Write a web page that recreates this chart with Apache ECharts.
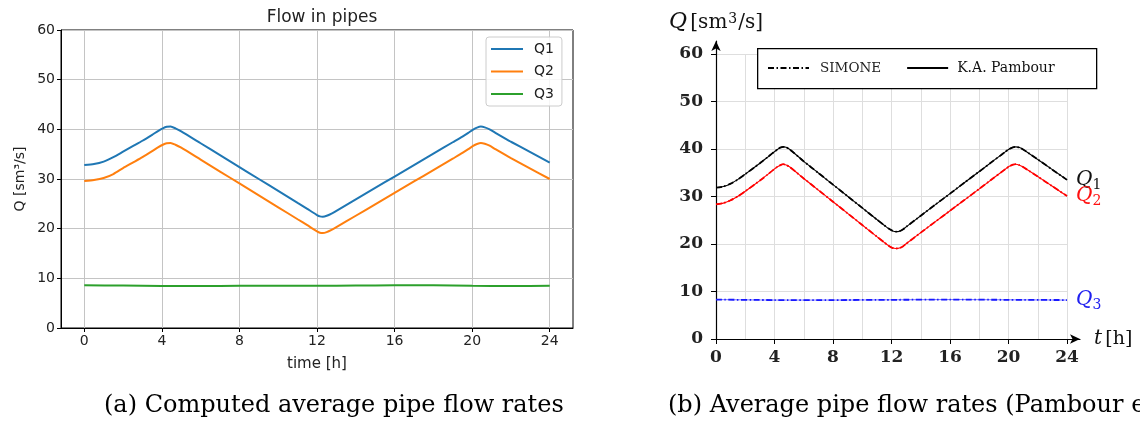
<!DOCTYPE html>
<html><head><meta charset="utf-8">
<script src="https://cdn.jsdelivr.net/npm/echarts@6/dist/echarts.min.js"></script>
<style>html,body{margin:0;padding:0;background:#fff}#c{width:1140px;height:426px}</style>
</head><body><div id="c"></div>
<script>
// ---------- Left chart (computed) ----------
const hoursLeft = [0,0.5,1,1.5,2,2.5,3,3.5,3.8,4.05,4.25,4.45,4.7,5,6,7,8,9,10,11,11.5,11.75,12,12.15,12.3,12.5,12.75,13,14,15,16,17,18,19,19.5,19.8,20.05,20.25,20.45,20.65,20.9,21.2,22,23,24];
const q1Left = [32.8,33.0,33.5,34.4,35.5,36.6,37.7,38.9,39.65,40.2,40.5,40.55,40.2,39.6,37.2,34.8,32.4,30.0,27.6,25.2,24.0,23.35,22.75,22.48,22.42,22.6,23.05,23.6,25.9,28.2,30.5,32.8,35.1,37.4,38.55,39.3,39.95,40.35,40.55,40.4,40.0,39.3,37.5,35.4,33.3];
const q2Left = [29.6,29.8,30.2,31.0,32.2,33.3,34.4,35.6,36.35,36.9,37.2,37.25,36.9,36.3,33.9,31.5,29.1,26.7,24.3,21.9,20.7,20.05,19.45,19.18,19.12,19.3,19.75,20.3,22.6,24.9,27.2,29.5,31.8,34.1,35.25,36.0,36.65,37.05,37.25,37.1,36.7,36.0,34.2,32.1,30.0];
const hoursQ3Left = [0,2,4,6,8,10,12,14,16,18,20,22,24];
const q3Left = [8.6,8.55,8.45,8.45,8.5,8.5,8.5,8.55,8.6,8.6,8.5,8.45,8.5];
const xTicksLeft = [0,4,8,12,16,20,24];

// ---------- Right chart (Pambour et al.) ----------
const hoursRight = [0,0.5,1,1.5,2,3,3.5,3.9,4.2,4.4,4.6,4.8,5.05,6,7,8,9,10,11,11.5,11.8,12.05,12.3,12.55,12.8,13,14,15,16,17,18,19,19.5,19.8,20.05,20.3,20.5,20.75,21,22,23,24];
const q1Right = [31.85,32.1,32.7,33.6,34.7,37.0,38.2,39.2,39.9,40.3,40.45,40.35,39.9,37.4,34.95,32.5,30.05,27.6,25.15,23.95,23.25,22.8,22.6,22.7,23.1,23.6,25.95,28.3,30.6,32.95,35.25,37.6,38.75,39.45,40.0,40.35,40.45,40.3,39.9,37.8,35.65,33.5];
const q2Right = [28.35,28.6,29.2,30.05,31.1,33.35,34.55,35.55,36.25,36.6,36.8,36.65,36.2,33.8,31.35,28.9,26.45,24.0,21.55,20.35,19.65,19.2,19.05,19.15,19.55,20.05,22.4,24.7,27.0,29.3,31.6,33.95,35.1,35.8,36.35,36.7,36.8,36.6,36.2,34.2,32.15,30.1];
const hoursQ3Right = [0,4,8,12,16,20,24];
const q3Right = [8.3,8.2,8.2,8.25,8.3,8.25,8.2];

const captionA = '(a) Computed average pipe flow rates';
const captionB = '(b) Average pipe flow rates (Pambour et';

const pairs = (xs, ys) => xs.map((x, i) => [x, ys[i]]);

const SANS = 'DejaVu Sans';
const SERIF = 'DejaVu Serif';
const mplGrid = '#c4c4c4';
const pgfGrid = '#dedede';

const qLabelRich = {
  q: { fontFamily: SERIF, fontStyle: 'italic', fontSize: 20, lineHeight: 24, verticalAlign: 'middle' },
  s: { fontFamily: SERIF, fontSize: 14, lineHeight: 24, verticalAlign: 'bottom' }
};
function qRich(color) {
  const r = {};
  for (const k in qLabelRich) r[k] = Object.assign({ color }, qLabelRich[k]);
  return r;
}

const chart = echarts.init(document.getElementById('c'), null, { renderer: 'canvas' });

const simoneDash = [6, 2.5, 1.5, 2.5];

chart.setOption({
  animation: false,
  backgroundColor: '#fff',
  title: [{
    text: 'Flow in pipes', left: 317, top: 4, textAlign: 'center',
    textStyle: { fontFamily: SANS, fontSize: 17, fontWeight: 'normal', color: '#222' }
  }],
  grid: [
    { left: 61, top: 30, width: 512, height: 298, show: true, borderColor: '#000', borderWidth: 1, containLabel: false },
    { left: 716, top: 54, width: 351, height: 285, containLabel: false },
    { left: 716, top: 41, width: 364, height: 298, containLabel: false }
  ],
  legend: [
    {
      data: ['Q1', 'Q2', 'Q3'], orient: 'vertical', left: 486, top: 37,
      padding: [5, 8, 5, 4], itemWidth: 32, itemHeight: 12, itemGap: 8.5,
      backgroundColor: 'rgba(255,255,255,0.85)', borderColor: '#cccccc', borderWidth: 1, borderRadius: 3,
      itemStyle: { opacity: 0 },
      textStyle: { fontFamily: SANS, fontSize: 14, color: '#222', padding: [0, 2, 0, 6] },
      selectedMode: false
    },
    {
      data: [
        { name: 'SIMONE', textStyle: { fontFamily: SERIF, fontSize: 13.5, color: '#222', padding: [0, 0, 0, 6] } },
        { name: 'K.A. Pambour', textStyle: { fontFamily: SERIF, fontSize: 14, color: '#111', padding: [0, 0, 0, 4] } }
      ],
      orient: 'horizontal', left: 767, top: 61, padding: 0,
      itemWidth: 41, itemHeight: 14, itemGap: 25, selectedMode: false,
      itemStyle: { opacity: 0 }, z: 10
    }
  ],
  xAxis: [
    {
      gridIndex: 0, type: 'value', min: -1.2, max: 25.2,
      axisLine: { show: true, onZero: false, lineStyle: { color: '#000', width: 1 } },
      axisTick: { show: true, length: 4, lineStyle: { color: '#000' }, customValues: xTicksLeft },
      axisLabel: { customValues: xTicksLeft, color: '#222', fontFamily: SANS, fontSize: 14, margin: 6 },
      splitLine: { show: true, lineStyle: { color: mplGrid, width: 1 } },
      name: 'time [h]', nameLocation: 'middle', nameGap: 29,
      nameTextStyle: { fontFamily: SANS, fontSize: 15, color: '#222' }
    },
    {
      gridIndex: 1, type: 'value', min: 0, max: 24, interval: 4,
      axisLine: { show: false },
      axisTick: { show: true, length: 5, lineStyle: { color: '#000' } },
      axisLabel: { color: '#222', fontFamily: SERIF, fontSize: 17, fontWeight: 'bold', margin: 10 },
      splitLine: { show: true, lineStyle: { color: pgfGrid, width: 1 } },
      minorTick: { show: false, splitNumber: 2 },
      minorSplitLine: { show: true, lineStyle: { color: pgfGrid, width: 1 } }
    },
    {
      gridIndex: 2, type: 'value', min: 0, max: 1,
      axisLine: { show: true, onZero: false, symbol: ['none', 'arrow'], symbolSize: [7, 10], lineStyle: { color: '#000', width: 1.2 } },
      axisTick: { show: false }, axisLabel: { show: false }, splitLine: { show: false },
      name: '{i|t} {n|[h]}', nameLocation: 'end', nameGap: 14,
      nameTextStyle: {
        rich: {
          i: { fontFamily: SERIF, fontStyle: 'italic', fontSize: 20, color: '#111' },
          n: { fontFamily: SERIF, fontSize: 19, color: '#111' }
        }
      }
    }
  ],
  yAxis: [
    {
      gridIndex: 0, type: 'value', min: 0, max: 60, interval: 10,
      axisLine: { show: true, onZero: false, lineStyle: { color: '#000', width: 1 } },
      axisTick: { show: true, length: 4, lineStyle: { color: '#000' } },
      axisLabel: { color: '#222', fontFamily: SANS, fontSize: 14, margin: 6 },
      splitLine: { show: true, lineStyle: { color: mplGrid, width: 1 } },
      name: 'Q [sm³/s]', nameLocation: 'middle', nameGap: 34, nameRotate: 90,
      nameTextStyle: { fontFamily: SANS, fontSize: 14, color: '#222' }
    },
    {
      gridIndex: 1, type: 'value', min: 0, max: 60, interval: 10,
      axisLine: { show: false },
      axisTick: { show: true, length: 5, lineStyle: { color: '#000' } },
      axisLabel: { color: '#222', fontFamily: SERIF, fontSize: 17, fontWeight: 'bold', margin: 13 },
      splitLine: { show: true, lineStyle: { color: pgfGrid, width: 1 } }
    },
    {
      gridIndex: 2, type: 'value', min: 0, max: 1,
      axisLine: { show: true, onZero: false, symbol: ['none', 'arrow'], symbolSize: [7, 10], lineStyle: { color: '#000', width: 1.2 } },
      axisTick: { show: false }, axisLabel: { show: false }, splitLine: { show: false },
      name: '{i|Q} {n|[sm}{p|3}{n|/s]}', nameLocation: 'end', nameGap: 8,
      nameTextStyle: {
        align: 'center',
        rich: {
          i: { fontFamily: SERIF, fontStyle: 'italic', fontSize: 22, color: '#111', lineHeight: 26, verticalAlign: 'bottom' },
          n: { fontFamily: SERIF, fontSize: 20, color: '#111', lineHeight: 26, verticalAlign: 'bottom' },
          p: { fontFamily: SERIF, fontSize: 14, color: '#111', lineHeight: 26, verticalAlign: 'top', padding: [5, 1, 0, 1] }
        }
      }
    }
  ],
  series: [
    { name: 'Q1', type: 'line', xAxisIndex: 0, yAxisIndex: 0, data: pairs(hoursLeft, q1Left), showSymbol: false, symbol: 'none', smooth: 0.2, color: '#1f77b4', lineStyle: { width: 2 } },
    { name: 'Q2', type: 'line', xAxisIndex: 0, yAxisIndex: 0, data: pairs(hoursLeft, q2Left), showSymbol: false, symbol: 'none', smooth: 0.2, color: '#ff7f0e', lineStyle: { width: 2 } },
    { name: 'Q3', type: 'line', xAxisIndex: 0, yAxisIndex: 0, data: pairs(hoursQ3Left, q3Left), showSymbol: false, symbol: 'none', smooth: 0.2, color: '#2ca02c', lineStyle: { width: 2 } },

    { name: 'SIMONE', type: 'line', xAxisIndex: 1, yAxisIndex: 1, data: pairs(hoursRight, q1Right), showSymbol: false, symbol: 'none', smooth: 0.2, color: '#000', lineStyle: { width: 1.8, type: simoneDash } },
    { name: 'SIMONE', type: 'line', xAxisIndex: 1, yAxisIndex: 1, data: pairs(hoursRight, q2Right), showSymbol: false, symbol: 'none', smooth: 0.2, color: '#ff0000', lineStyle: { width: 1.8, type: simoneDash } },
    { name: 'SIMONE', type: 'line', xAxisIndex: 1, yAxisIndex: 1, data: pairs(hoursQ3Right, q3Right), showSymbol: false, symbol: 'none', smooth: 0.2, color: '#1a1aff', lineStyle: { width: 1.8, type: simoneDash } },

    { name: 'K.A. Pambour', type: 'line', xAxisIndex: 1, yAxisIndex: 1, data: pairs(hoursRight, q1Right), showSymbol: false, symbol: 'none', smooth: 0.2, color: '#000', lineStyle: { width: 1.1 },
      endLabel: { show: true, distance: 9, formatter: '{q|Q}{s|1}', rich: qRich('#111') } },
    { name: 'K.A. Pambour', type: 'line', xAxisIndex: 1, yAxisIndex: 1, data: pairs(hoursRight, q2Right), showSymbol: false, symbol: 'none', smooth: 0.2, color: '#ff0000', lineStyle: { width: 1.1 },
      endLabel: { show: true, distance: 9, formatter: '{q|Q}{s|2}', rich: qRich('#ff1010') } },
    { name: 'K.A. Pambour', type: 'line', xAxisIndex: 1, yAxisIndex: 1, data: pairs(hoursQ3Right, q3Right), showSymbol: false, symbol: 'none', smooth: 0.2, color: '#1a1aff', lineStyle: { width: 0.6 },
      endLabel: { show: true, distance: 9, formatter: '{q|Q}{s|3}', rich: qRich('#2020f0') } }
  ],
  graphic: [
    { type: 'rect', left: 757, top: 48, shape: { width: 339, height: 40 }, style: { fill: '#fff', stroke: '#000', lineWidth: 1.3 }, z: 3 },
    { type: 'text', left: 104, top: 394, style: { text: captionA, font: '24px "DejaVu Serif"', fill: '#000' } },
    { type: 'text', left: 668, top: 394, style: { text: captionB, font: '24px "DejaVu Serif"', fill: '#000' } }
  ]
});
</script>
</body></html>
